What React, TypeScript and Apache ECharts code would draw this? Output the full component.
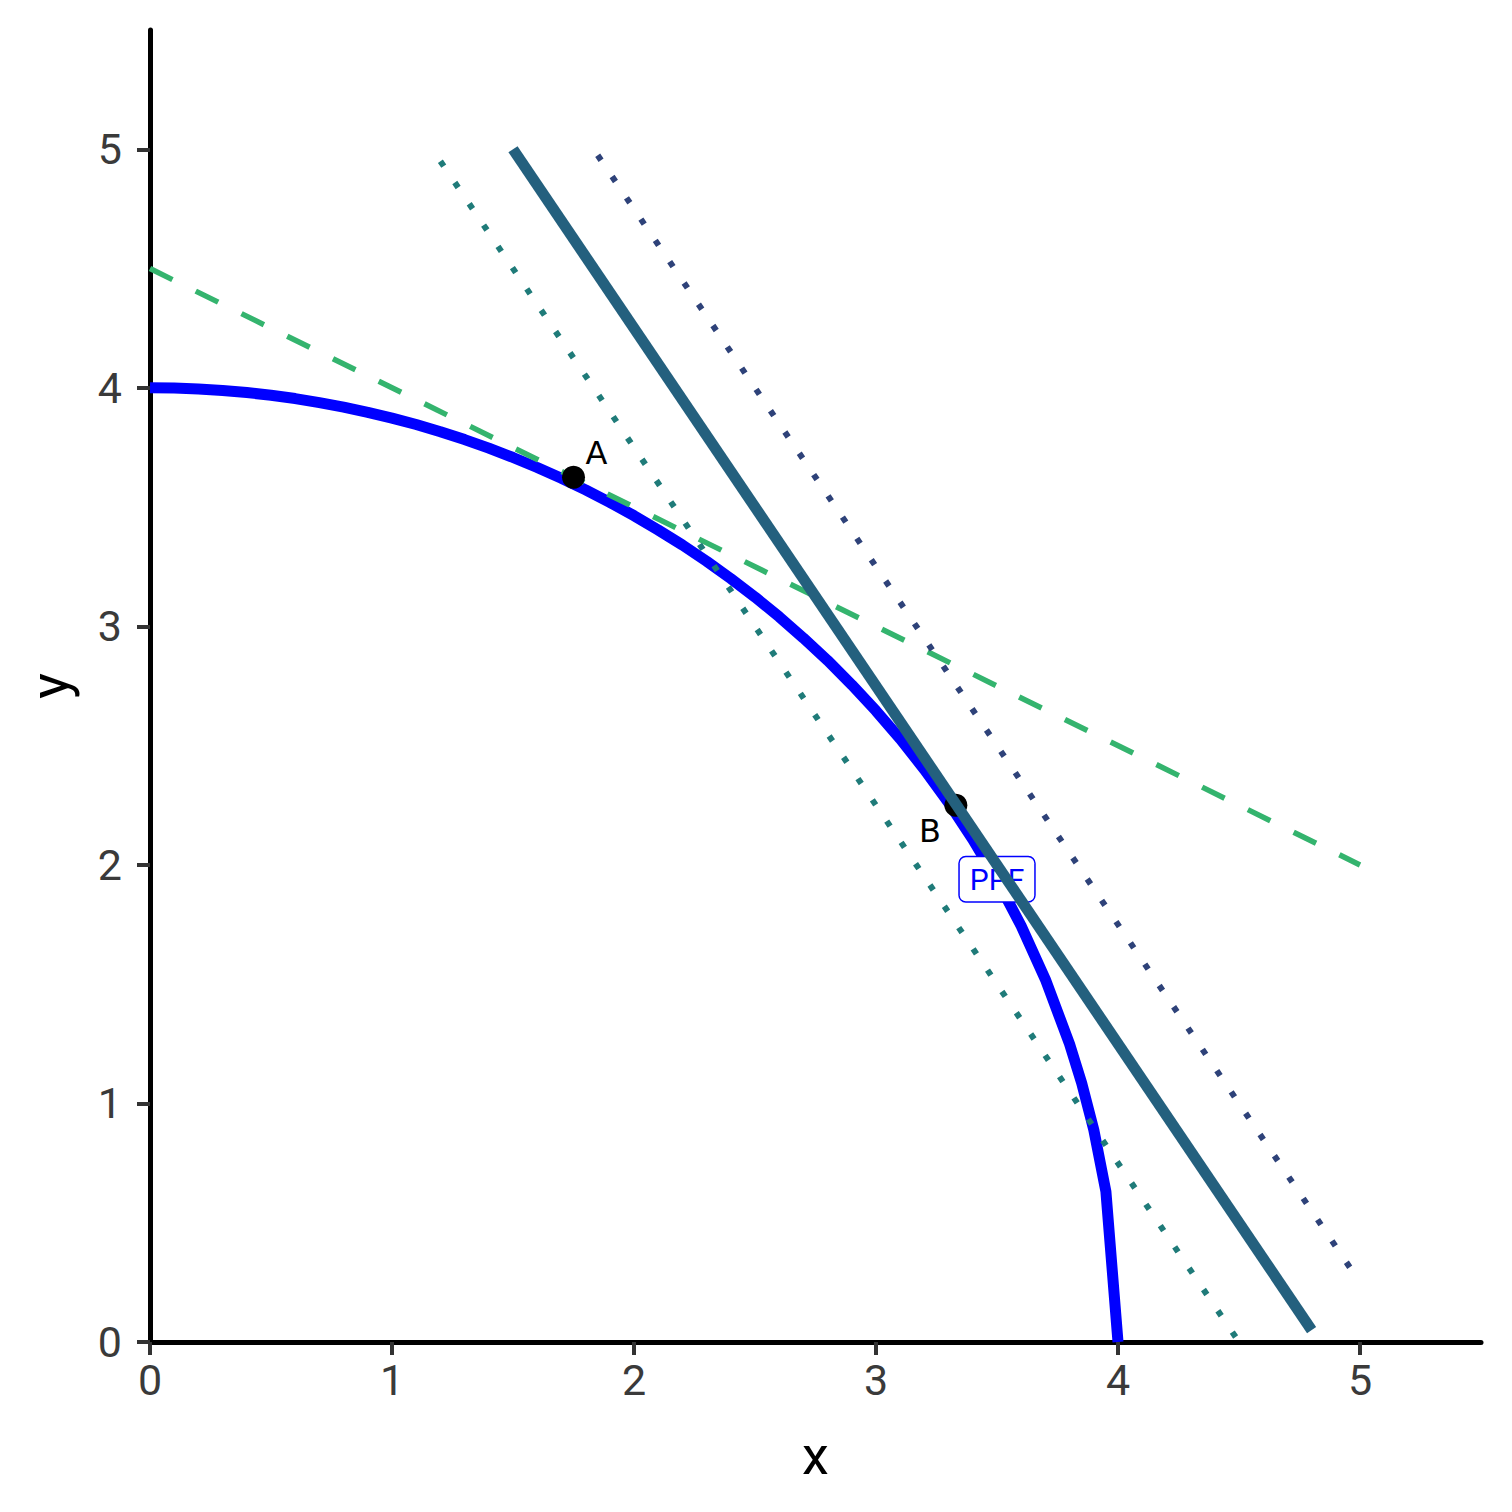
import React, { useEffect, useRef } from "react";
import * as echarts from "echarts";

const ppfX = [0, 0.1, 0.2, 0.3, 0.4, 0.5, 0.6, 0.7, 0.8, 0.9, 1.0, 1.1, 1.2, 1.3, 1.4, 1.5, 1.6, 1.7, 1.8, 1.9, 2.0, 2.1, 2.2, 2.3, 2.4, 2.5, 2.6, 2.7, 2.8, 2.9, 3.0, 3.1, 3.2, 3.3, 3.4, 3.5, 3.6, 3.7, 3.8, 3.85, 3.9, 3.95, 4.0];
const ppfY = [4.0, 3.999, 3.995, 3.989, 3.98, 3.969, 3.955, 3.938, 3.919, 3.897, 3.873, 3.846, 3.816, 3.783, 3.747, 3.708, 3.666, 3.621, 3.572, 3.52, 3.464, 3.404, 3.341, 3.273, 3.2, 3.123, 3.04, 2.951, 2.857, 2.755, 2.646, 2.528, 2.4, 2.261, 2.107, 1.937, 1.744, 1.52, 1.249, 1.085, 0.889, 0.631, 0];

const dashedLine = [[0, 4.5], [5, 2]];
const solidLine = [[1.5, 5], [4.8, 0.05]];
const dottedLow = [[1.2, 4.95], [4.5, 0]];
const dottedHigh = [[1.85, 4.975], [5, 0.25]];

const pointA = [1.75, 3.625];
const pointB = [3.33, 2.25];
const ppfLabelPos = [3.5, 1.94];

const tickValues = [0, 1, 2, 3, 4, 5];

const FONT = "Roboto, sans-serif";

export default function App() {
  const ref = useRef<HTMLDivElement>(null);
  useEffect(() => {
    if (!ref.current) return;
    const chart = echarts.init(ref.current, null, { renderer: "svg" });
    const axisCommon = {
      type: "value",
      min: 0,
      max: 5.5,
      splitLine: { show: false },
      axisLine: { show: true, onZero: false, lineStyle: { color: "#000", width: 5 } },
      axisTick: { show: true, length: 13, lineStyle: { color: "#333", width: 4 }, customValues: tickValues },
      axisLabel: { color: "#3a3a3a", fontSize: 43, fontFamily: FONT, customValues: tickValues },
    };
    chart.setOption({
      animation: false,
      backgroundColor: "#fff",
      grid: { left: 150, right: 31, top: 30, bottom: 170, containLabel: false, outerBoundsMode: "none" },
      xAxis: {
        ...axisCommon,
        axisLabel: { ...axisCommon.axisLabel, margin: 16 },
        name: "x",
        nameLocation: "middle",
        nameGap: 86,
        nameTextStyle: { color: "#000", fontSize: 54, fontFamily: FONT },
      },
      yAxis: {
        ...axisCommon,
        axisLabel: { ...axisCommon.axisLabel, margin: 28 },
        name: "y",
        nameLocation: "middle",
        nameGap: 74,
        nameTextStyle: { color: "#000", fontSize: 54, fontFamily: FONT },
      },
      series: [
        {
          type: "line",
          z: 1,
          data: ppfX.map((x, i) => [x, ppfY[i]]),
          showSymbol: false,
          lineStyle: { color: "#0000ff", width: 11 },
        },
        {
          type: "scatter",
          z: 2,
          data: [ppfLabelPos],
          symbolSize: 0,
          itemStyle: { opacity: 1 },
          label: {
            show: true,
            position: "inside",
            formatter: "PPF",
            color: "#0000ff",
            opacity: 1,
            fontSize: 30,
            fontFamily: FONT,
            lineHeight: 30,
            backgroundColor: "#fff",
            borderColor: "#0000ff",
            borderWidth: 1.5,
            borderRadius: 6,
            padding: [7, 10],
          },
        },
        {
          type: "line",
          z: 3,
          data: dashedLine,
          showSymbol: false,
          lineStyle: { color: "#34b46e", width: 5.5, type: [25, 26] },
        },
        {
          type: "line",
          z: 3,
          data: dottedLow,
          showSymbol: false,
          lineStyle: { color: "#1f7b79", width: 6, type: [6, 19.7] },
        },
        {
          type: "line",
          z: 3,
          data: dottedHigh,
          showSymbol: false,
          lineStyle: { color: "#2e4279", width: 6, type: [6, 19.7] },
        },
        {
          type: "scatter",
          z: 4,
          symbolSize: 23,
          itemStyle: { color: "#000", opacity: 1 },
          data: [
            { value: pointA, label: { show: true, formatter: "A", offset: [23, -24] } },
            { value: pointB, label: { show: true, formatter: "B", offset: [-26, 26] } },
          ],
          label: {
            position: "inside",
            color: "#000",
            opacity: 1,
            fontSize: 32,
            fontFamily: "'DejaVu Sans', sans-serif",
          },
        },
        {
          type: "line",
          z: 5,
          data: solidLine,
          showSymbol: false,
          lineStyle: { color: "#24607e", width: 11 },
        },
      ],
    });
    return () => chart.dispose();
  }, []);
  return <div ref={ref} style={{ position: "fixed", left: 0, top: 0, width: 1512, height: 1512 }} />;
}
